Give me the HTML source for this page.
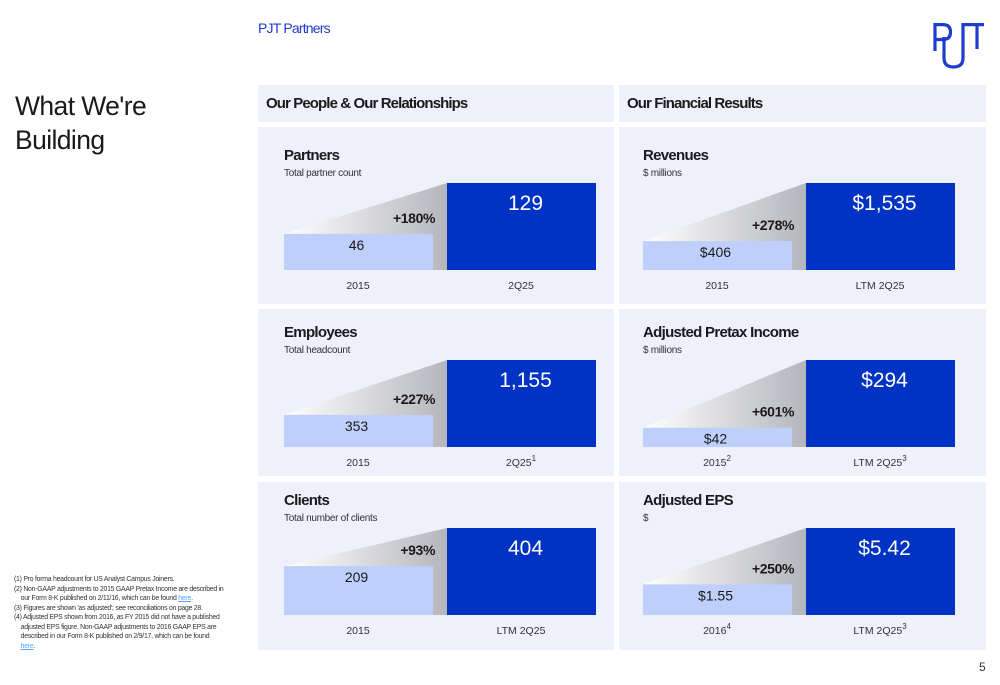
<!DOCTYPE html>
<html><head><meta charset="utf-8"><style>
body{margin:0;width:1000px;height:685px;background:#fff;font-family:"Liberation Sans",sans-serif;position:relative;overflow:hidden}
.abs{position:absolute}
.hdr{background:#eef0fb;height:37px;top:85px;font-weight:bold;font-size:15px;color:#1a1a1a;line-height:37px;box-sizing:border-box;padding-left:8px;letter-spacing:-0.9px}
.fn{left:14px;top:575px;font-size:6.9px;color:#333;line-height:9.5px;width:240px;white-space:nowrap;letter-spacing:-0.25px}
.fn a{color:#5aa0ff;text-decoration:underline}
</style></head><body>
<div class="abs" style="left:258px;top:20px;color:#1f3bd0;font-size:14px;letter-spacing:-0.8px">PJT Partners</div>
<svg class="abs" style="left:932px;top:20px" width="56" height="52" viewBox="0 0 56 52"><g fill="none" stroke="#1f3bd0" stroke-width="3.2"><path d="M3 3V31M3 4.6H11Q18.5 4.6 18.5 12Q18.5 19.5 11 19.5H3"/><path d="M12 17V38Q12 47 21.5 47Q31 47 31 38V4.6H52"/><path d="M45 4.6V29"/></g></svg>
<div class="abs" style="left:15px;top:89px;font-size:26.5px;line-height:34px;color:#1a1a1a;letter-spacing:-0.6px">What We're<br>Building</div>
<div class="abs hdr" style="left:258px;width:356px">Our People &amp; Our Relationships</div>
<div class="abs hdr" style="left:619px;width:367px">Our Financial Results</div>
<svg id="chart" class="abs" style="left:0;top:0" width="1000" height="685"></svg>
<div class="abs fn">(1) Pro forma headcount for US Analyst Campus Joiners.<br>(2) Non-GAAP adjustments to 2015 GAAP Pretax Income are described in<br>&nbsp;&nbsp;&nbsp;&nbsp;our Form 8-K published on 2/11/16, which can be found <a>here</a>.<br>(3) Figures are shown 'as adjusted'; see reconciliations on page 28.<br>(4) Adjusted EPS shown from 2016, as FY 2015 did not have a published<br>&nbsp;&nbsp;&nbsp;&nbsp;adjusted EPS figure. Non-GAAP adjustments to 2016 GAAP EPS are<br>&nbsp;&nbsp;&nbsp;&nbsp;described in our Form 8-K published on 2/9/17, which can be found<br>&nbsp;&nbsp;&nbsp;&nbsp;<a>here</a>.</div>
<div class="abs" style="left:979px;top:660px;font-size:12px;color:#333">5</div>
<script>
const titles=["Partners","Revenues","Employees","Adjusted Pretax Income","Clients","Adjusted EPS"];
const subtitles=["Total partner count","$ millions","Total headcount","$ millions","Total number of clients","$"];
const startValues=[46,406,353,42,209,1.55];
const endValues=[129,1535,1155,294,404,5.42];
const startLabels=["46","$406","353","$42","209","$1.55"];
const endLabels=["129","$1,535","1,155","$294","404","$5.42"];
const pctLabels=["+180%","+278%","+227%","+601%","+93%","+250%"];
const startCats=["2015","2015","2015","2015","2015","2016"];
const startSup=["","","","2","","4"];
const endCats=["2Q25","LTM 2Q25","2Q25","LTM 2Q25","LTM 2Q25","LTM 2Q25"];
const endSup=["","","1","3","","3"];
const svg=document.getElementById('chart');const NS="http://www.w3.org/2000/svg";
function mk(t,a,p){const e=document.createElementNS(NS,t);for(const k in a)e.setAttribute(k,a[k]);(p||svg).appendChild(e);return e;}
const defs=mk('defs',{});const g=mk('linearGradient',{id:'wg',x1:0,x2:1,y1:0,y2:0},defs);
mk('stop',{offset:0,'stop-color':'#ffffff'},g);mk('stop',{offset:1,'stop-color':'#b4b6bc'},g);
const rowTop=[127,309,482],rowH=[177,167,168],base=[270,447,615];
const colX=[258,619],colW=[356,367];
function hScale(v,max){return 8+79*v/max;}
for(let i=0;i<6;i++){
 const r=Math.floor(i/2),c=i%2;
 const px=colX[c],lx=c?643:284,dx=c?806:447,bw=149,b=base[r];
 const p=mk('rect',{x:px,y:rowTop[r],width:colW[c],height:rowH[r],fill:'#eef0fb'});
 
 
 const t=mk('text',{x:lx,y:b-110,'font-size':15,'font-weight':'bold',fill:'#1a1a1a','letter-spacing':'-0.7'});t.textContent=titles[i];
 
 const s=mk('text',{x:lx,y:b-94,'font-size':10,fill:'#333','letter-spacing':'-0.3'});s.textContent=subtitles[i];
 
 const mx=Math.max(startValues[i],endValues[i]);
 const h1=hScale(startValues[i],mx),h2=hScale(endValues[i],mx);
 const w=mk('polygon',{points:`${lx},${b-h1} ${dx},${b-h2} ${dx},${b} ${lx},${b}`,fill:'url(#wg)'});
 
 const r1=mk('rect',{x:lx,y:b-h1,width:bw,height:h1,fill:'#bfcffb'});
 
 const r2=mk('rect',{x:dx,y:b-h2,width:bw,height:h2,fill:'#0033c4'});
 
 const v1=mk('text',{x:lx+bw/2-2,y:b-h1+16,'font-size':14,fill:'#1a1a1a','text-anchor':'middle'});v1.textContent=startLabels[i];
 
 const v2=mk('text',{x:dx+bw/2+4,y:b-h2+27,'font-size':21,fill:'#fff','text-anchor':'middle'});v2.textContent=endLabels[i];
 
 const pc=mk('text',{x:dx-12,y:b-h1-11,'font-size':14,'font-weight':'bold',fill:'#1a1a1a','text-anchor':'end','letter-spacing':'-0.4'});pc.textContent=pctLabels[i];
 
 const c1=mk('text',{x:lx+74,y:b+19,'font-size':10.5,fill:'#333','text-anchor':'middle'});c1.textContent=startCats[i];
 
 if(startSup[i]){const ss=mk('tspan',{dy:-5,'font-size':8},c1);ss.textContent=startSup[i];}
 const c2=mk('text',{x:dx+74,y:b+19,'font-size':10.5,fill:'#333','text-anchor':'middle'});c2.textContent=endCats[i];
 
 if(endSup[i]){const ss=mk('tspan',{dy:-5,'font-size':8},c2);ss.textContent=endSup[i];}
}
</script>
</body></html>
